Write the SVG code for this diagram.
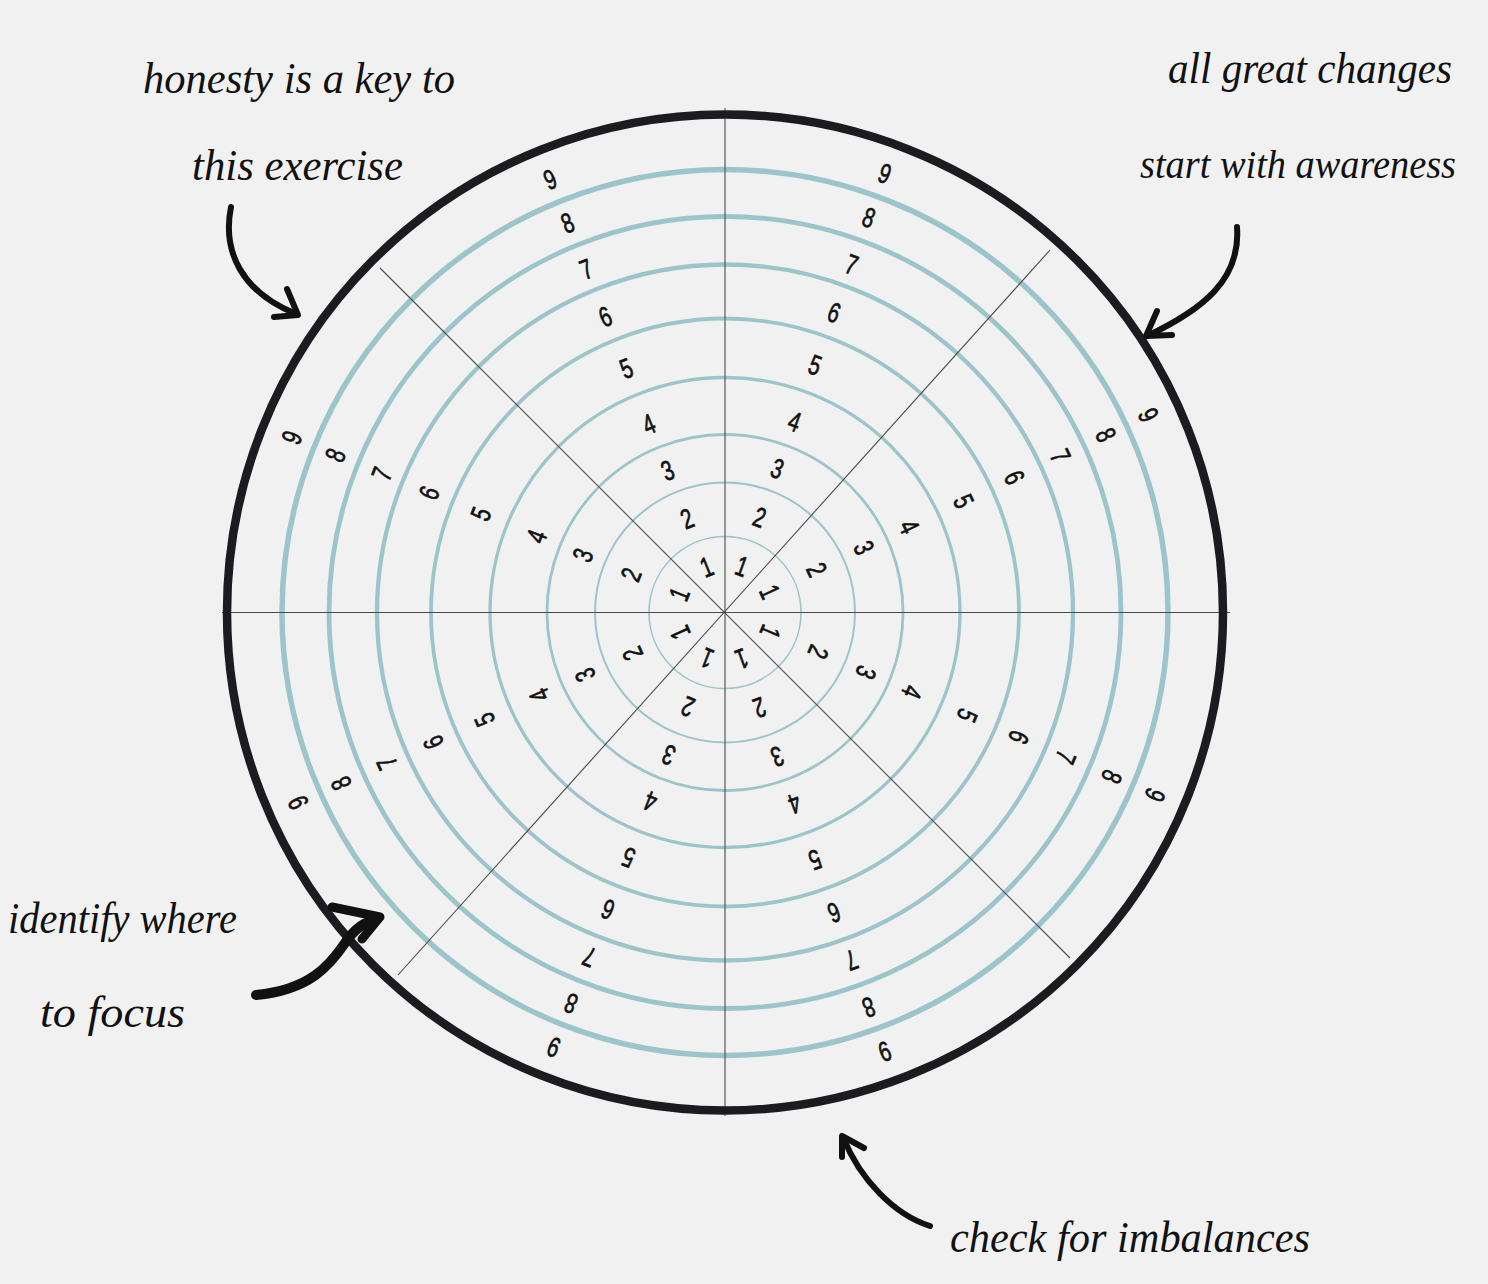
<svg xmlns="http://www.w3.org/2000/svg" width="1488" height="1284" viewBox="0 0 1488 1284">
<style>
.ring{fill:none;stroke:#9cc5cb}
.spoke{stroke:#4a4a4a;stroke-width:1.1}
.n{font-family:"Liberation Sans",Arial,sans-serif;font-size:28px;fill:#111;stroke:#111;stroke-width:0.7;text-anchor:middle}
.h{font-family:"Liberation Serif","DejaVu Serif",serif;font-style:italic;font-size:44px;fill:#111}
.arr{fill:none;stroke:#111;stroke-linecap:round;stroke-linejoin:round}
</style>
<rect width="1488" height="1284" fill="#f1f1f1"/>
<g id="rings">
<circle class="ring" cx="725" cy="612.5" r="76" stroke-width="1.6"/>
<circle class="ring" cx="725" cy="612.5" r="130" stroke-width="2"/>
<circle class="ring" cx="725" cy="612.5" r="178" stroke-width="2.8"/>
<circle class="ring" cx="725" cy="612.5" r="235" stroke-width="3.3"/>
<circle class="ring" cx="725" cy="612.5" r="294" stroke-width="3.8"/>
<circle class="ring" cx="725" cy="612.5" r="348" stroke-width="4.3"/>
<circle class="ring" cx="725" cy="612.5" r="396" stroke-width="4.8"/>
<circle class="ring" cx="725" cy="612.5" r="443" stroke-width="5.5"/>
</g>
<g id="spokes">
<line class="spoke" x1="725" y1="108" x2="725" y2="1116"/>
<line class="spoke" x1="222" y1="612.5" x2="1230" y2="612.5"/>
<line class="spoke" x1="380" y1="268" x2="1070" y2="958"/>
<line class="spoke" x1="1050" y1="250" x2="398" y2="975"/>
</g>
<circle id="outer-circle" cx="725" cy="612.5" r="498" fill="none" stroke="#1c1b20" stroke-width="8.5"/>
<g id="sector-top-right" transform="rotate(20 725 612.5)">
<text class="n" transform="translate(725 573) scale(0.72 1)">1</text>
<text class="n" transform="translate(725 521) scale(0.72 1)">2</text>
<text class="n" transform="translate(725 469) scale(0.72 1)">3</text>
<text class="n" transform="translate(725 419) scale(0.72 1)">4</text>
<text class="n" transform="translate(725 359) scale(0.72 1)">5</text>
<text class="n" transform="translate(725 303) scale(0.72 1)">6</text>
<text class="n" transform="translate(725 252) scale(0.72 1)">7</text>
<text class="n" transform="translate(725 202) scale(0.72 1)">8</text>
<text class="n" transform="translate(725 155) scale(0.72 1)">9</text>
</g>
<g id="sector-top-left" transform="rotate(-22 725 612.5)">
<text class="n" transform="translate(725 573) scale(0.72 1)">1</text>
<text class="n" transform="translate(725 521) scale(0.72 1)">2</text>
<text class="n" transform="translate(725 469) scale(0.72 1)">3</text>
<text class="n" transform="translate(725 419) scale(0.72 1)">4</text>
<text class="n" transform="translate(725 359) scale(0.72 1)">5</text>
<text class="n" transform="translate(725 303) scale(0.72 1)">6</text>
<text class="n" transform="translate(725 252) scale(0.72 1)">7</text>
<text class="n" transform="translate(725 202) scale(0.72 1)">8</text>
<text class="n" transform="translate(725 155) scale(0.72 1)">9</text>
</g>
<g id="sector-left-upper" transform="rotate(-68 725 612.5)">
<text class="n" transform="translate(725 573) scale(0.72 1)">1</text>
<text class="n" transform="translate(725 521) scale(0.72 1)">2</text>
<text class="n" transform="translate(725 469) scale(0.72 1)">3</text>
<text class="n" transform="translate(725 419) scale(0.72 1)">4</text>
<text class="n" transform="translate(725 359) scale(0.72 1)">5</text>
<text class="n" transform="translate(725 303) scale(0.72 1)">6</text>
<text class="n" transform="translate(725 252) scale(0.72 1)">7</text>
<text class="n" transform="translate(725 202) scale(0.72 1)">8</text>
<text class="n" transform="translate(725 155) scale(0.72 1)">9</text>
</g>
<g id="sector-left-lower" transform="rotate(-114 725 612.5)">
<text class="n" transform="translate(725 573) scale(0.72 1)">1</text>
<text class="n" transform="translate(725 521) scale(0.72 1)">2</text>
<text class="n" transform="translate(725 469) scale(0.72 1)">3</text>
<text class="n" transform="translate(725 419) scale(0.72 1)">4</text>
<text class="n" transform="translate(725 359) scale(0.72 1)">5</text>
<text class="n" transform="translate(725 303) scale(0.72 1)">6</text>
<text class="n" transform="translate(725 252) scale(0.72 1)">7</text>
<text class="n" transform="translate(725 202) scale(0.72 1)">8</text>
<text class="n" transform="translate(725 155) scale(0.72 1)">9</text>
</g>
<g id="sector-bottom-left" transform="rotate(-158.5 725 612.5)">
<text class="n" transform="translate(725 573) scale(0.72 1)">1</text>
<text class="n" transform="translate(725 521) scale(0.72 1)">2</text>
<text class="n" transform="translate(725 469) scale(0.72 1)">3</text>
<text class="n" transform="translate(725 419) scale(0.72 1)">4</text>
<text class="n" transform="translate(725 359) scale(0.72 1)">5</text>
<text class="n" transform="translate(725 303) scale(0.72 1)">6</text>
<text class="n" transform="translate(725 252) scale(0.72 1)">7</text>
<text class="n" transform="translate(725 202) scale(0.72 1)">8</text>
<text class="n" transform="translate(725 155) scale(0.72 1)">9</text>
</g>
<g id="sector-bottom-right" transform="rotate(160 725 612.5)">
<text class="n" transform="translate(725 573) scale(0.72 1)">1</text>
<text class="n" transform="translate(725 521) scale(0.72 1)">2</text>
<text class="n" transform="translate(725 469) scale(0.72 1)">3</text>
<text class="n" transform="translate(725 419) scale(0.72 1)">4</text>
<text class="n" transform="translate(725 359) scale(0.72 1)">5</text>
<text class="n" transform="translate(725 303) scale(0.72 1)">6</text>
<text class="n" transform="translate(725 252) scale(0.72 1)">7</text>
<text class="n" transform="translate(725 202) scale(0.72 1)">8</text>
<text class="n" transform="translate(725 155) scale(0.72 1)">9</text>
</g>
<g id="sector-right-lower" transform="rotate(113 725 612.5)">
<text class="n" transform="translate(725 573) scale(0.72 1)">1</text>
<text class="n" transform="translate(725 521) scale(0.72 1)">2</text>
<text class="n" transform="translate(725 469) scale(0.72 1)">3</text>
<text class="n" transform="translate(725 419) scale(0.72 1)">4</text>
<text class="n" transform="translate(725 359) scale(0.72 1)">5</text>
<text class="n" transform="translate(725 303) scale(0.72 1)">6</text>
<text class="n" transform="translate(725 252) scale(0.72 1)">7</text>
<text class="n" transform="translate(725 202) scale(0.72 1)">8</text>
<text class="n" transform="translate(725 155) scale(0.72 1)">9</text>
</g>
<g id="sector-right-upper" transform="rotate(65 725 612.5)">
<text class="n" transform="translate(725 573) scale(0.72 1)">1</text>
<text class="n" transform="translate(725 521) scale(0.72 1)">2</text>
<text class="n" transform="translate(725 469) scale(0.72 1)">3</text>
<text class="n" transform="translate(725 419) scale(0.72 1)">4</text>
<text class="n" transform="translate(725 359) scale(0.72 1)">5</text>
<text class="n" transform="translate(725 303) scale(0.72 1)">6</text>
<text class="n" transform="translate(725 252) scale(0.72 1)">7</text>
<text class="n" transform="translate(725 202) scale(0.72 1)">8</text>
<text class="n" transform="translate(725 155) scale(0.72 1)">9</text>
</g>
<g id="note-honesty">
<text class="h" x="143" y="93" textLength="312" lengthAdjust="spacingAndGlyphs">honesty is a key to</text>
<text class="h" x="192" y="180" textLength="211" lengthAdjust="spacingAndGlyphs">this exercise</text>
</g>
<g id="note-changes">
<text class="h" x="1168" y="83" textLength="284" lengthAdjust="spacingAndGlyphs">all great changes</text>
<text class="h" x="1140" y="178" style="font-size:40px" textLength="316" lengthAdjust="spacingAndGlyphs">start with awareness</text>
</g>
<g id="note-focus">
<text class="h" x="8" y="933" textLength="229" lengthAdjust="spacingAndGlyphs">identify where</text>
<text class="h" x="40" y="1027" textLength="145" lengthAdjust="spacingAndGlyphs">to focus</text>
</g>
<g id="note-imbalances">
<text class="h" x="950" y="1252" textLength="360" lengthAdjust="spacingAndGlyphs">check for imbalances</text>
</g>
<g id="connectors">
<path class="arr" stroke-width="6" d="M231,207 C222,252 242,292 296,314"/>
<path class="arr" stroke-width="6" d="M287,289 L298,315 L274,317"/>
<path class="arr" stroke-width="6" d="M1237,227 C1241,280 1202,310 1147,336"/>
<path class="arr" stroke-width="6" d="M1157,311 L1146,336 L1172,335"/>
<path class="arr" stroke-width="10" d="M256,995 C310,990 330,965 345,943 C355,928 365,922 378,918"/>
<path class="arr" stroke-width="9" d="M332,907 L380,917 L362,939"/>
<path class="arr" stroke-width="6" d="M930,1226 C895,1215 860,1180 843,1137"/>
<path class="arr" stroke-width="6" d="M864,1148 L842,1136 L842,1157"/>
</g>
</svg>
